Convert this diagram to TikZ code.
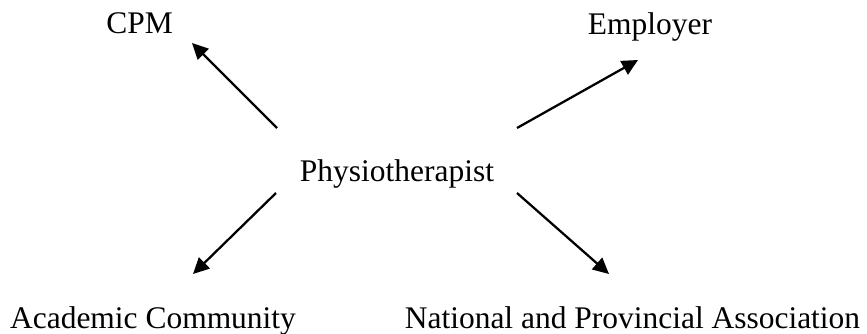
\documentclass[tikz,border=0pt]{standalone}
\usepackage{fontspec}
\setmainfont{Liberation Serif}
\usetikzlibrary{arrows.meta}
\begin{document}
\begin{tikzpicture}[x=0.75pt,y=-0.75pt,
  lbl/.style={anchor=base,inner sep=0pt,font=\fontsize{23.6}{28}\selectfont},
  conn/.style={line width=1.7pt,-{Triangle[length=12pt,width=11.5pt]}}]
\useasboundingbox (0,0) rectangle (867,333);
\node[lbl] (cpm) at (139.5,33) {CPM};
\node[lbl] (emp) at (650,34) {Employer};
\node[lbl] (phy) at (397,181) {Physiotherapist};
\node[lbl] (aca) at (153,328) {Academic Community};
\node[lbl] (nat) at (632.5,328) {National and Provincial Association};
\coordinate (c1s) at (277,128); \coordinate (c1e) at (192,43);
\coordinate (c2s) at (517,128); \coordinate (c2e) at (638,60);
\coordinate (c3s) at (276,193); \coordinate (c3e) at (193,274);
\coordinate (c4s) at (517,193); \coordinate (c4e) at (609,274);
\draw[conn] (c1s) -- (c1e);
\draw[conn] (c2s) -- (c2e);
\draw[conn] (c3s) -- (c3e);
\draw[conn] (c4s) -- (c4e);
\end{tikzpicture}
\end{document}
